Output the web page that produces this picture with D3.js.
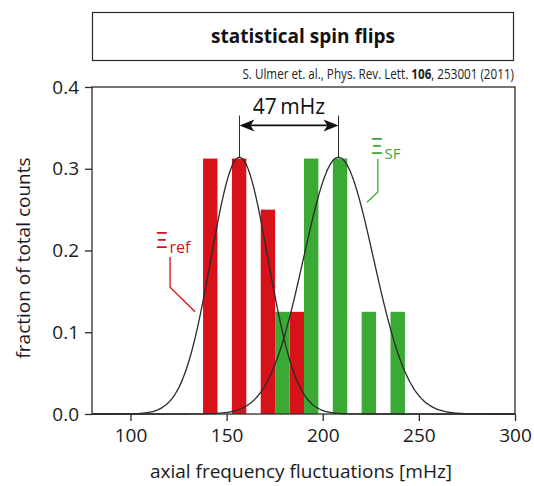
<!DOCTYPE html>
<html>
<head>
<meta charset="utf-8">
<script src="https://cdn.jsdelivr.net/npm/d3@7/dist/d3.min.js"></script>
<style>
  html, body { margin: 0; padding: 0; background: #fff; }
  svg { display: block; font-family: "Open Sans", "Noto Sans", sans-serif; }
</style>
</head>
<body>
<svg id="chart" width="534" height="486"></svg>
<script>
// Histogram bins (centre in mHz) and fraction of counts
const refCenters = [141.5, 156.5, 171.5, 186.5];
const refValues  = [0.3125, 0.3125, 0.25, 0.125];
const sfCenters  = [179, 194, 209, 224, 239];
const sfValues   = [0.125, 0.3125, 0.3125, 0.125, 0.125];
const binWidth = 7.5;

// Gaussian fits: [mean, sigma, peak]
const refFit = [156.7, 14.8, 0.314];
const sfFit  = [208.2, 18.2, 0.314];

const xTicks = [100, 150, 200, 250, 300];
const yTicks = [0.0, 0.1, 0.2, 0.3, 0.4];
const xDomain = [80, 300];
const yDomain = [0, 0.4];

const titleText = "statistical spin flips";
const citeParts = ["S. Ulmer et. al., Phys. Rev. Lett. ", "106", ", 253001 (2011)"];
const separationLabel = "47\u2009mHz";
const xLabel = "axial frequency fluctuations [mHz]";
const yLabel = "fraction of total counts";

const RED = "#d7121b";
const GREEN = "#3aaa35";
const INK = "#2b2b2b";

const svg = d3.select("#chart");
const m = { left: 92, right: 515, top: 87, bottom: 414 };

const x = d3.scaleLinear().domain(xDomain).range([m.left, m.right]);
const y = d3.scaleLinear().domain(yDomain).range([m.bottom, m.top]);

// Squeeze a text horizontally (about its anchor point) so it spans at most w pixels
function squeeze(sel, ax, ay, w) {
  const len = sel.node().getComputedTextLength();
  if (len > w) {
    const k = w / len;
    sel.attr("transform", `translate(${ax},${ay}) scale(${k},1) translate(${-ax},${-ay})`);
  }
  return sel;
}

// Title box
svg.append("rect")
  .attr("x", 92.5).attr("y", 12.5).attr("width", 421).attr("height", 48)
  .attr("fill", "none").attr("stroke", INK).attr("stroke-width", 1.2);
squeeze(svg.append("text")
  .attr("x", 303).attr("y", 43)
  .attr("text-anchor", "middle")
  .attr("font-size", 19.5).attr("font-weight", 700)
  .attr("fill", "#111")
  .text(titleText), 303, 43, 184);

// Citation
const cite = svg.append("text")
  .attr("x", 514).attr("y", 79)
  .attr("text-anchor", "end")
  .attr("font-size", 14).attr("fill", "#222");
cite.append("tspan").text(citeParts[0]);
cite.append("tspan").attr("font-weight", 700).text(citeParts[1]);
cite.append("tspan").text(citeParts[2]);
squeeze(cite, 514, 79, 272);

// Bars
const halfW = binWidth / 2;
function drawBars(centers, values, color) {
  svg.append("g").selectAll("rect")
    .data(centers.map((c, i) => ({ c, v: values[i] })))
    .join("rect")
    .attr("x", d => x(d.c - halfW))
    .attr("width", d => x(d.c + halfW) - x(d.c - halfW))
    .attr("y", d => y(d.v))
    .attr("height", d => y(0) - y(d.v))
    .attr("fill", color);
}
drawBars(refCenters, refValues, RED);
drawBars(sfCenters, sfValues, GREEN);

// Gaussian curves
function gauss([mu, s, a], v) { return a * Math.exp(-((v - mu) ** 2) / (2 * s * s)); }
const samples = d3.range(xDomain[0], xDomain[1] + 0.01, 0.5);
const line = d3.line().x(d => x(d[0])).y(d => y(d[1])).curve(d3.curveBasis);
[refFit, sfFit].forEach(fit => {
  svg.append("path")
    .attr("d", line(samples.map(v => [v, gauss(fit, v)])))
    .attr("fill", "none").attr("stroke", INK).attr("stroke-width", 1.3);
});

// Frame
svg.append("rect")
  .attr("x", m.left).attr("y", m.top)
  .attr("width", m.right - m.left).attr("height", m.bottom - m.top)
  .attr("fill", "none").attr("stroke", INK).attr("stroke-width", 1.3);

// Axes
const xAxis = svg.append("g")
  .attr("transform", `translate(0,${m.bottom})`)
  .call(d3.axisBottom(x).tickValues(xTicks).tickSize(7).tickPadding(8).tickFormat(d3.format("d")));
const yAxis = svg.append("g")
  .attr("transform", `translate(${m.left},0)`)
  .call(d3.axisLeft(y).tickValues(yTicks).tickSize(7).tickPadding(6).tickFormat(d3.format(".1f")));
[xAxis, yAxis].forEach(g => {
  g.select(".domain").remove();
  g.selectAll(".tick line").attr("stroke", INK).attr("stroke-width", 1.3);
  g.selectAll(".tick text").attr("font-size", 19).attr("fill", "#1a1a1a")
    .attr("font-family", "'Open Sans', sans-serif");
});

// Axis titles
svg.append("text")
  .attr("x", 301).attr("y", 478)
  .attr("text-anchor", "middle").attr("font-size", 19).attr("fill", "#1a1a1a")
  .text(xLabel);
svg.append("text")
  .attr("transform", "translate(30,258) rotate(-90)")
  .attr("text-anchor", "middle").attr("font-size", 19).attr("fill", "#1a1a1a")
  .text(yLabel);

// Separation marker between the two fit centres
const xa = x(refFit[0]), xb = x(sfFit[0]);
const yTop = y(0.365), yArrow = y(0.353);
[[xa, refFit], [xb, sfFit]].forEach(([px, fit]) => {
  svg.append("line")
    .attr("x1", px).attr("x2", px)
    .attr("y1", yTop).attr("y2", y(fit[2]))
    .attr("stroke", INK).attr("stroke-width", 1);
});
svg.append("line")
  .attr("x1", xa + 6).attr("x2", xb - 6)
  .attr("y1", yArrow).attr("y2", yArrow)
  .attr("stroke", "#111").attr("stroke-width", 1.6);
function head(px, dir) {
  const L = 15, H = 6, N = 4;
  return `M${px},${yArrow} L${px + dir * L},${yArrow - H} L${px + dir * (L - N)},${yArrow} L${px + dir * L},${yArrow + H} Z`;
}
svg.append("path").attr("d", head(xa, 1)).attr("fill", "#111");
svg.append("path").attr("d", head(xb, -1)).attr("fill", "#111");
svg.append("text")
  .attr("x", (xa + xb) / 2).attr("y", 114)
  .attr("text-anchor", "middle").attr("font-size", 21).attr("fill", "#111")
  .text(separationLabel);

// Series labels with leader lines
function seriesLabel(color, pos, sub, subSize, leader) {
  const t = svg.append("text")
    .attr("x", x(pos[0])).attr("y", y(pos[1]))
    .attr("fill", color);
  t.append("tspan").attr("font-family", "'DejaVu Sans', sans-serif").attr("font-size", 22).text("\u039E");
  t.append("tspan").attr("font-size", subSize).attr("dy", 5).attr("dx", 1).text(sub);
  svg.append("path")
    .attr("d", d3.line()(leader.map(p => [x(p[0]), y(p[1])])))
    .attr("fill", "none").attr("stroke", color).attr("stroke-width", 1.3);
}
seriesLabel(RED, [112.6, 0.203], "ref", 16,
  [[120.6, 0.192], [120.6, 0.155], [133.6, 0.125]]);
seriesLabel(GREEN, [224.4, 0.318], "SF", 15,
  [[228.7, 0.312], [228.7, 0.2716], [223.0, 0.259]]);
</script>
</body>
</html>
